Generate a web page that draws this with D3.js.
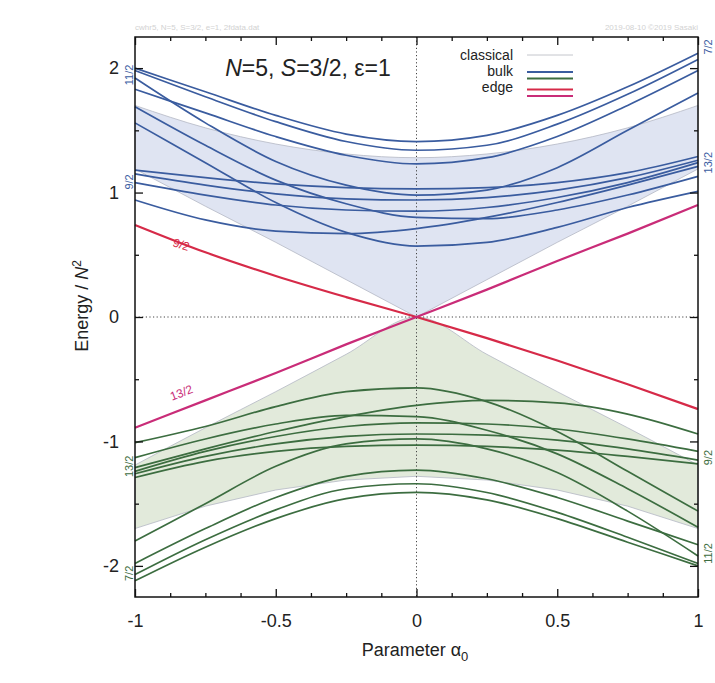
<!DOCTYPE html>
<html>
<head>
<meta charset="utf-8">
<script src="https://cdn.jsdelivr.net/npm/d3@7"></script>
<style>
  html, body { margin: 0; padding: 0; background: #fff; }
  svg { display: block; font-family: "Liberation Sans", Arial, sans-serif; }
</style>
</head>
<body>
<svg id="chart" width="715" height="683"></svg>
<script>
// sample points of the parameter alpha_0
const alpha = [-1, -0.75, -0.5, -0.25, 0, 0.25, 0.5, 0.75, 1];

// bulk levels, upper band (blue)
const bulkUpper = [
    [2.00, 1.81, 1.62, 1.47, 1.41, 1.46, 1.62, 1.85, 2.12],
    [1.98, 1.77, 1.57, 1.41, 1.34, 1.38, 1.55, 1.79, 2.07],
    [1.83, 1.64, 1.45, 1.30, 1.23, 1.28, 1.45, 1.70, 1.98],
    [1.92, 1.56, 1.25, 1.06, 0.98, 1.02, 1.20, 1.50, 1.80],
    [1.56, 1.24, 0.92, 0.68, 0.57, 0.60, 0.72, 0.88, 1.01],
    [0.94, 0.78, 0.69, 0.67, 0.71, 0.80, 0.92, 1.06, 1.21],
    [1.69, 1.38, 1.10, 0.91, 0.80, 0.79, 0.86, 0.98, 1.13],
    [1.08, 0.98, 0.90, 0.86, 0.85, 0.88, 0.96, 1.08, 1.24],
    [1.15, 1.06, 0.99, 0.95, 0.94, 0.96, 1.02, 1.12, 1.26],
    [1.18, 1.12, 1.07, 1.04, 1.03, 1.04, 1.08, 1.16, 1.29],
];

// bulk levels, lower band (green)
const bulkLower = [
    [-2.12, -1.85, -1.62, -1.46, -1.41, -1.47, -1.62, -1.81, -2.00],
    [-2.07, -1.79, -1.55, -1.38, -1.34, -1.41, -1.57, -1.77, -1.98],
    [-1.98, -1.70, -1.45, -1.28, -1.23, -1.30, -1.45, -1.64, -1.83],
    [-1.80, -1.50, -1.20, -1.02, -0.98, -1.06, -1.25, -1.56, -1.92],
    [-1.01, -0.88, -0.72, -0.60, -0.57, -0.68, -0.92, -1.24, -1.56],
    [-1.21, -1.06, -0.92, -0.80, -0.71, -0.67, -0.69, -0.78, -0.94],
    [-1.13, -0.98, -0.86, -0.79, -0.80, -0.91, -1.10, -1.38, -1.69],
    [-1.24, -1.08, -0.96, -0.88, -0.85, -0.86, -0.90, -0.98, -1.08],
    [-1.26, -1.12, -1.02, -0.96, -0.94, -0.95, -0.99, -1.06, -1.15],
    [-1.29, -1.16, -1.08, -1.04, -1.03, -1.04, -1.07, -1.12, -1.18],
];

// edge levels
const edgeRed = [0.74, 0.52, 0.33, 0.16, 0, -0.17, -0.35, -0.54, -0.74];
const edgeMagenta = [-0.89, -0.67, -0.45, -0.22, 0, 0.22, 0.45, 0.67, 0.90];

// classical regions
const classUpperTop = [1.70, 1.52, 1.39, 1.31, 1.28, 1.31, 1.39, 1.52, 1.70];
const classUpperBottom = [1.19, 0.89, 0.60, 0.30, 0, 0.30, 0.60, 0.89, 1.19];
const classLowerTop = [-1.19, -0.89, -0.60, -0.30, 0, -0.30, -0.60, -0.89, -1.19];
const classLowerBottom = [-1.70, -1.52, -1.39, -1.31, -1.28, -1.31, -1.39, -1.52, -1.70];

// ticks
const xTicks = [-1, -0.5, 0, 0.5, 1];
const xMinorTicks = [-0.875, -0.75, -0.625, -0.375, -0.25, -0.125, 0.125, 0.25, 0.375, 0.625, 0.75, 0.875];
const yTicks = [-2, -1, 0, 1, 2];
const yMinorTicks = [-1.5, -0.5, 0.5, 1.5];

// spin labels at the frame sides
const leftLabels = ["11/2", "9/2", "13/2", "7/2"];
const rightLabels = ["7/2", "13/2", "9/2", "11/2"];

const blue = "#3a5c9f";
const green = "#3c6d40";
const red = "#d62a48";
const magenta = "#c92c78";

const svg = d3.select("#chart");
const x = d3.scaleLinear().domain([-1, 1]).range([135, 698]);
const y = d3.scaleLinear().domain([-2.25, 2.25]).range([597, 37]);

// Classical shaded regions
function regionPath(top, bottom) {
    const pts = alpha.map((a, i) => [a, top[i]]);
    const low = alpha.map((a, i) => [a, bottom[i]]).reverse();
    const upper = d3.line().x(d => x(d[0])).y(d => y(d[1])).curve(d3.curveMonotoneX)(pts);
    const lower = d3.line().x(d => x(d[0])).y(d => y(d[1]))(low);
    return upper + "L" + lower.slice(1) + "Z";
}
svg.append("path")
    .attr("d", regionPath(classUpperTop, classUpperBottom))
    .attr("fill", "#dfe4f2")
    .attr("stroke", "#b4b8c4")
    .attr("stroke-width", 0.8);
svg.append("path")
    .attr("d", regionPath(classLowerTop, classLowerBottom))
    .attr("fill", "#e2eadb")
    .attr("stroke", "#b4b8c4")
    .attr("stroke-width", 0.8);

// Zero lines
svg.append("line")
    .attr("x1", x(-1)).attr("x2", x(1)).attr("y1", y(0)).attr("y2", y(0))
    .attr("stroke", "#444").attr("stroke-width", 1).attr("stroke-dasharray", "1.2,2.4");
svg.append("line")
    .attr("x1", x(0)).attr("x2", x(0)).attr("y1", y(2.25)).attr("y2", y(-2.25))
    .attr("stroke", "#444").attr("stroke-width", 1).attr("stroke-dasharray", "1.2,2.4");

const curve = d3.line()
    .x((d, i) => x(alpha[i]))
    .y(d => y(d))
    .curve(d3.curveMonotoneX);

// Bulk levels
svg.append("g").selectAll("path")
    .data(bulkUpper)
    .join("path")
    .attr("d", curve)
    .attr("fill", "none")
    .attr("stroke", blue)
    .attr("stroke-width", 1.7);
svg.append("g").selectAll("path")
    .data(bulkLower)
    .join("path")
    .attr("d", curve)
    .attr("fill", "none")
    .attr("stroke", green)
    .attr("stroke-width", 1.7);

// Edge levels
svg.append("path").attr("d", curve(edgeRed))
    .attr("fill", "none").attr("stroke", red).attr("stroke-width", 2.2);
svg.append("path").attr("d", curve(edgeMagenta))
    .attr("fill", "none").attr("stroke", magenta).attr("stroke-width", 2.2);

// Frame
svg.append("rect")
    .attr("x", x(-1)).attr("y", y(2.25))
    .attr("width", x(1) - x(-1)).attr("height", y(-2.25) - y(2.25))
    .attr("fill", "none").attr("stroke", "#111").attr("stroke-width", 1.5);

// Axes: ticks point inward on all four sides
function styleAxis(g) {
    g.select(".domain").remove();
    g.selectAll(".tick line").attr("stroke", "#111").attr("stroke-width", 1.3);
    g.selectAll("text").attr("font-size", 18).attr("fill", "#222")
        .attr("font-family", "Liberation Sans, Arial, sans-serif");
}
svg.append("g").attr("transform", "translate(0,597)")
    .call(d3.axisBottom(x).tickValues(xTicks).tickSize(-8).tickPadding(17).tickFormat(d => String(d)))
    .call(styleAxis);
svg.append("g").attr("transform", "translate(0,597)")
    .call(d3.axisBottom(x).tickValues(xMinorTicks).tickSize(-4).tickFormat(""))
    .call(styleAxis);
svg.append("g").attr("transform", "translate(0,37)")
    .call(d3.axisTop(x).tickValues(xTicks).tickSize(-8).tickFormat(""))
    .call(styleAxis);
svg.append("g").attr("transform", "translate(0,37)")
    .call(d3.axisTop(x).tickValues(xMinorTicks).tickSize(-4).tickFormat(""))
    .call(styleAxis);
svg.append("g").attr("transform", "translate(135,0)")
    .call(d3.axisLeft(y).tickValues(yTicks).tickSize(-8).tickPadding(16).tickFormat(d => String(d)))
    .call(styleAxis);
svg.append("g").attr("transform", "translate(135,0)")
    .call(d3.axisLeft(y).tickValues(yMinorTicks).tickSize(-4).tickFormat(""))
    .call(styleAxis);
svg.append("g").attr("transform", "translate(698,0)")
    .call(d3.axisRight(y).tickValues(yTicks).tickSize(-8).tickFormat(""))
    .call(styleAxis);
svg.append("g").attr("transform", "translate(698,0)")
    .call(d3.axisRight(y).tickValues(yMinorTicks).tickSize(-4).tickFormat(""))
    .call(styleAxis);

// Axis titles
const xTitle = svg.append("text")
    .attr("x", 415).attr("y", 656)
    .attr("text-anchor", "middle")
    .attr("font-size", 18).attr("fill", "#222");
xTitle.append("tspan").text("Parameter α");
xTitle.append("tspan").attr("font-size", 13).attr("dy", 5).text("0");

const yTitle = svg.append("text")
    .attr("transform", "translate(88,306) rotate(-90)")
    .attr("text-anchor", "middle")
    .attr("font-size", 18).attr("fill", "#222");
yTitle.append("tspan").text("Energy / ");
yTitle.append("tspan").attr("font-style", "italic").text("N");
yTitle.append("tspan").attr("font-size", 12).attr("dy", -7).text("2");

// Title inside the plot
const title = svg.append("text")
    .attr("x", 308).attr("y", 76)
    .attr("text-anchor", "middle")
    .attr("font-size", 23).attr("fill", "#222");
title.append("tspan").attr("font-style", "italic").text("N");
title.append("tspan").text("=5, ");
title.append("tspan").attr("font-style", "italic").text("S");
title.append("tspan").text("=3/2, ε=1");

// Legend
const legend = svg.append("g").attr("font-size", 14).attr("fill", "#222").attr("text-anchor", "end");
legend.append("text").attr("x", 513).attr("y", 60).text("classical");
legend.append("text").attr("x", 513).attr("y", 76).text("bulk");
legend.append("text").attr("x", 513).attr("y", 92).text("edge");
const legendLines = [
    { y: 55, c: "#c4c6cc", w: 1 },
    { y: 72, c: blue, w: 1.8 },
    { y: 78.5, c: green, w: 1.8 },
    { y: 89.5, c: red, w: 2.2 },
    { y: 96, c: magenta, w: 2.2 },
];
legend.selectAll("line")
    .data(legendLines)
    .join("line")
    .attr("x1", 527).attr("x2", 573)
    .attr("y1", d => d.y).attr("y2", d => d.y)
    .attr("stroke", d => d.c).attr("stroke-width", d => d.w);

// Spin labels along the frame
const leftPos = [1.945, 1.085, -1.20, -2.06];
const leftCol = [blue, blue, green, green];
svg.append("g").selectAll("text")
    .data(leftLabels)
    .join("text")
    .attr("transform", (d, i) => `translate(129,${y(leftPos[i])}) rotate(-90)`)
    .attr("text-anchor", "middle")
    .attr("dominant-baseline", "central")
    .attr("font-size", 11)
    .attr("fill", (d, i) => leftCol[i])
    .text(d => d);

const rightPos = [2.17, 1.24, -1.13, -1.90];
const rightCol = [blue, blue, green, green];
svg.append("g").selectAll("text")
    .data(rightLabels)
    .join("text")
    .attr("transform", (d, i) => `translate(708,${y(rightPos[i])}) rotate(-90)`)
    .attr("text-anchor", "middle")
    .attr("dominant-baseline", "central")
    .attr("font-size", 11)
    .attr("fill", (d, i) => rightCol[i])
    .text(d => d);

// Edge labels
svg.append("text")
    .attr("transform", `translate(${x(-0.84)},${y(0.55)}) rotate(18)`)
    .attr("text-anchor", "middle")
    .attr("font-size", 12).attr("fill", red)
    .text("9/2");
svg.append("text")
    .attr("transform", `translate(${x(-0.83)},${y(-0.64)}) rotate(-21)`)
    .attr("text-anchor", "middle")
    .attr("font-size", 12).attr("fill", magenta)
    .text("13/2");

// Faint file stamps above the frame
svg.append("text").attr("x", 135).attr("y", 30)
    .attr("font-size", 8).attr("fill", "#d2d2d2")
    .text("cwhr5, N=5, S=3/2, e=1, 2fdata.dat");
svg.append("text").attr("x", 698).attr("y", 30)
    .attr("text-anchor", "end")
    .attr("font-size", 8).attr("fill", "#d2d2d2")
    .text("2019-08-10 ©2019 Sasaki");
</script>
</body>
</html>
